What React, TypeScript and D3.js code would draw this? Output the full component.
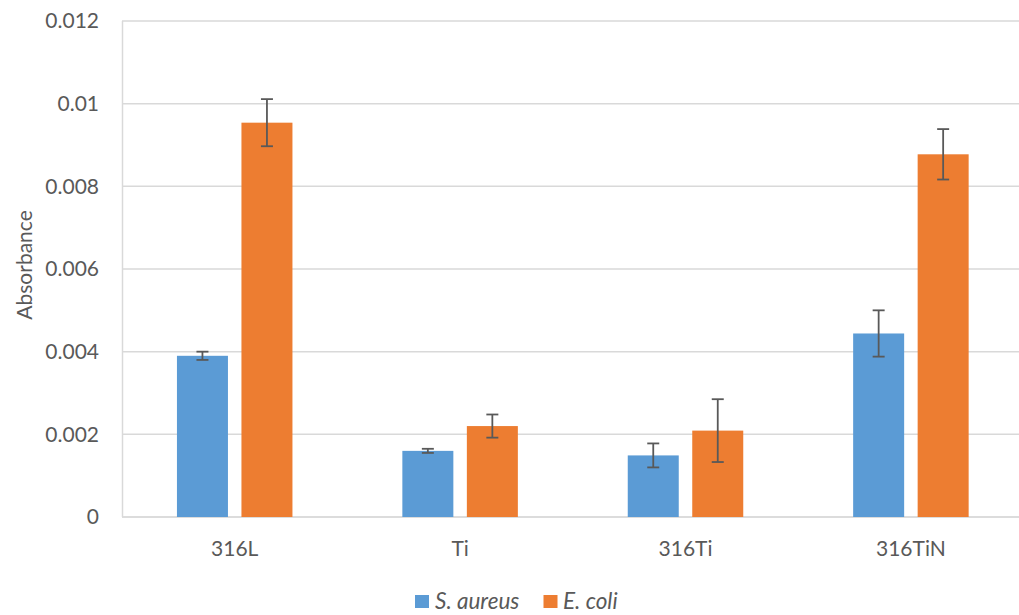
import React from "react";
import * as d3 from "d3";

const categories = ["316L", "Ti", "316Ti", "316TiN"];
const seriesNames = ["S. aureus", "E. coli"];
const sAureus = [0.0039, 0.0016, 0.00149, 0.00444];
const sAureusErr = [0.0001, 0.00005, 0.00029, 0.00056];
const eColi = [0.00954, 0.0022, 0.00209, 0.008775];
const eColiErr = [0.00057, 0.00028, 0.00076, 0.00061];
const yTicks = [0, 0.002, 0.004, 0.006, 0.008, 0.01, 0.012];
const yTickLabels = ["0", "0.002", "0.004", "0.006", "0.008", "0.01", "0.012"];
const colors = ["#5b9bd5", "#ed7d31"];

const W = 1019;
const H = 615;
const FONT = "Lato, 'Open Sans', sans-serif";
const TXT = "#595959";

export default function App() {
  const x = d3.scaleBand<string>().domain(categories).range([122, 1023.6]).paddingInner(0).paddingOuter(0);
  const y = d3.scaleLinear().domain([0, 0.012]).range([517, 21]);
  const barW = 51;
  const gap = 13.5;
  const series = [
    { vals: sAureus, errs: sAureusErr },
    { vals: eColi, errs: eColiErr },
  ];
  return (
    <svg width={W} height={H} style={{ display: "block", position: "absolute", left: 0, top: 0 }} fontFamily={FONT}>
      <rect width={W} height={H} fill="#fff" />
      {yTicks.map((t, i) => (
        <line key={"g" + i} x1={122} x2={W} y1={y(t)} y2={y(t)} stroke={i === 0 ? "#d0d0d0" : "#d9d9d9"} strokeWidth={1.5} />
      ))}
      <line x1={122.5} x2={122.5} y1={y(0.012)} y2={y(0)} stroke="#d9d9d9" strokeWidth={1.5} />
      {yTicks.map((t, i) => (
        <text key={"t" + i} x={99} y={y(t)} dy="0.35em" textAnchor="end" fontSize={21} fill={TXT}>
          {yTickLabels[i]}
        </text>
      ))}
      <text transform={`translate(24.5,265) rotate(-90)`} textAnchor="middle" dy="0.35em" fontSize={21} fill={TXT}>
        Absorbance
      </text>
      {categories.map((c, ci) => {
        const cx = (x(c) as number) + x.bandwidth() / 2;
        return (
          <g key={c}>
            {series.map((s, si) => {
              const bx = si === 0 ? cx - gap / 2 - barW : cx + gap / 2;
              const v = s.vals[ci];
              const e = s.errs[ci];
              const mx = bx + barW / 2;
              return (
                <g key={si}>
                  <rect x={bx} y={y(v)} width={barW} height={y(0) - y(v)} fill={colors[si]} />
                  <line x1={mx} x2={mx} y1={y(v + e)} y2={y(v - e)} stroke="#595959" strokeWidth={1.8} />
                  <line x1={mx - 6} x2={mx + 6} y1={y(v + e)} y2={y(v + e)} stroke="#595959" strokeWidth={1.8} />
                  <line x1={mx - 6} x2={mx + 6} y1={y(v - e)} y2={y(v - e)} stroke="#595959" strokeWidth={1.8} />
                </g>
              );
            })}
            <text x={cx} y={549} dy="0.35em" textAnchor="middle" fontSize={21} fill={TXT}>
              {c}
            </text>
          </g>
        );
      })}
      <g>
        <rect x={415} y={595} width={14} height={13} fill={colors[0]} />
        <text x={435} y={601.5} dy="0.35em" fontSize={22.5} fontStyle="italic" fill={TXT}>
          {seriesNames[0]}
        </text>
        <rect x={543.5} y={595} width={14} height={13} fill={colors[1]} />
        <text x={563} y={601.5} dy="0.35em" fontSize={22.5} fontStyle="italic" fill={TXT}>
          {seriesNames[1]}
        </text>
      </g>
    </svg>
  );
}
